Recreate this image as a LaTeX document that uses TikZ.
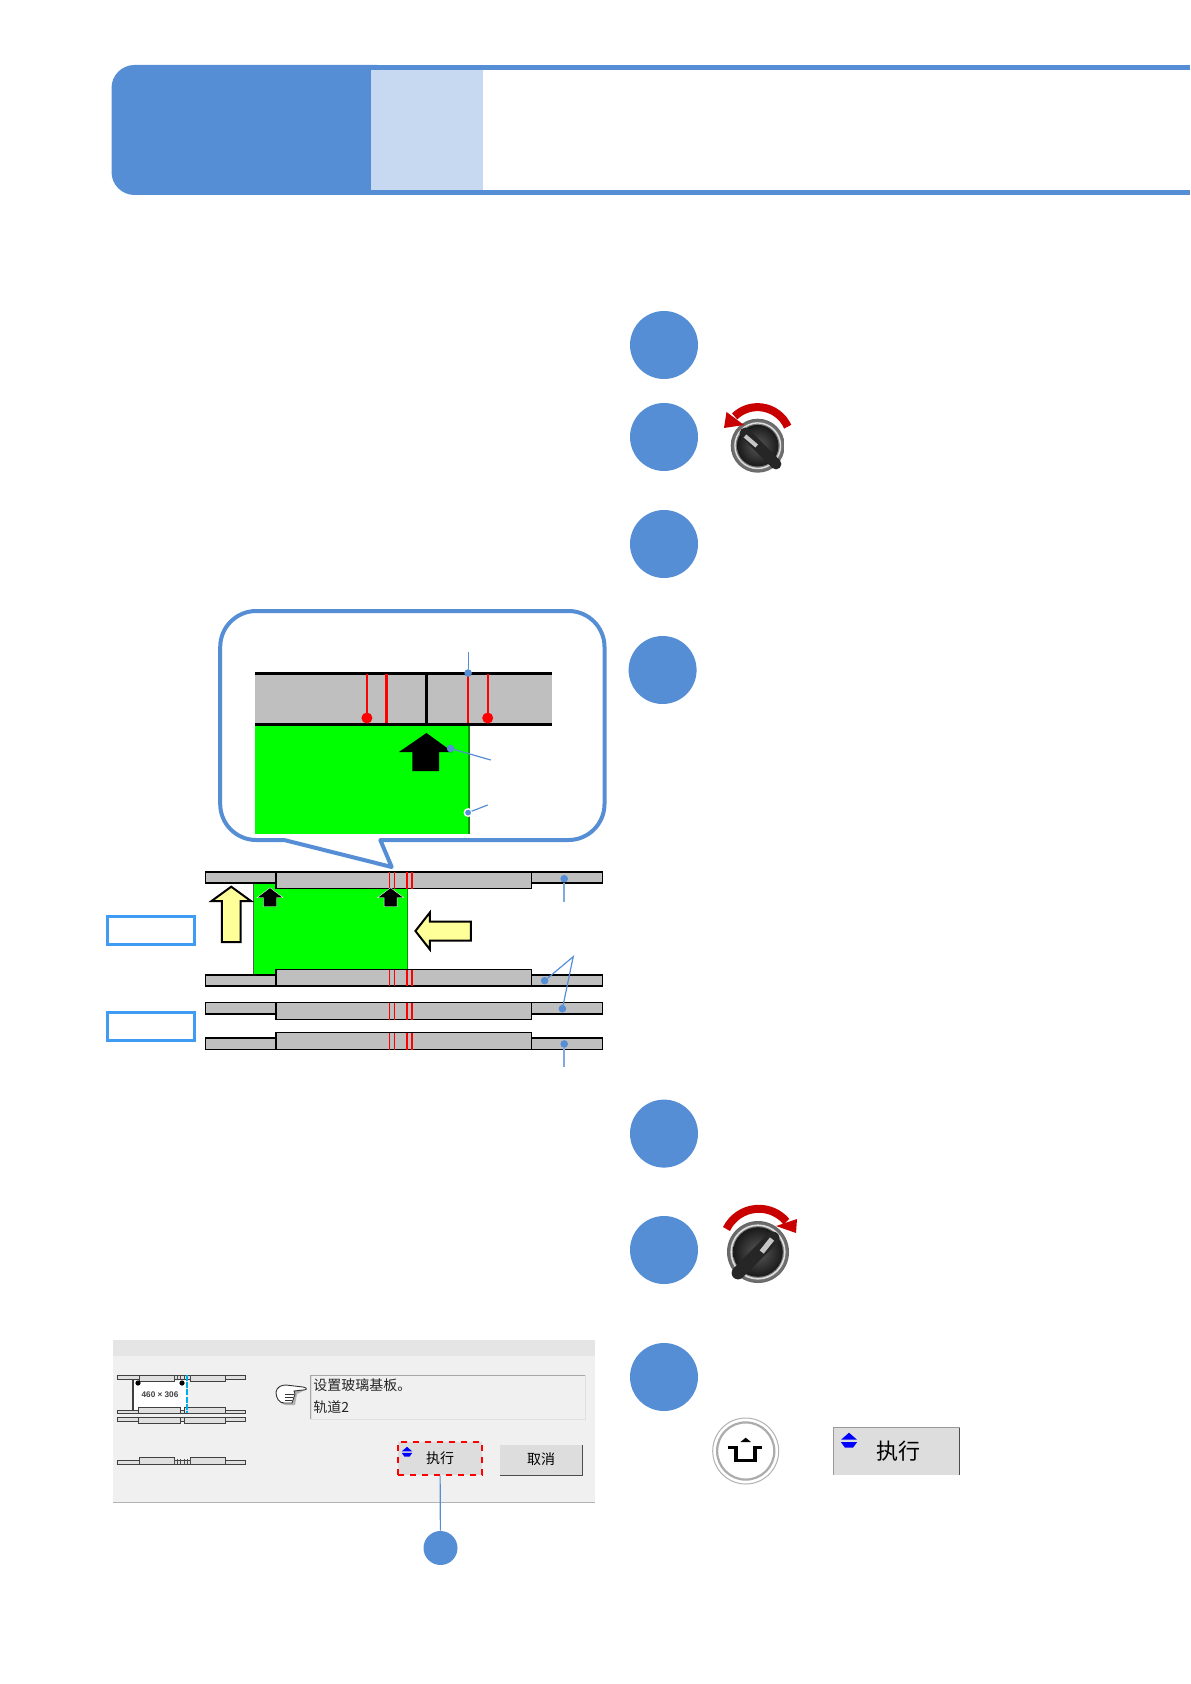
\documentclass[tikz,border=0pt]{standalone}
\usepackage{fontspec}
\setmainfont{Liberation Sans}
\newfontfamily\cjk{Noto Sans CJK SC}
\usepackage{xcolor}
\usepackage{tikz}
\usetikzlibrary{positioning}
\definecolor{stepblue}{HTML}{558ED5}
\definecolor{paleblue}{HTML}{C6D9F1}
\definecolor{railgrey}{HTML}{BFBFBF}
\definecolor{tagblue}{HTML}{409BF3}
\definecolor{dlggrey}{HTML}{F0F0F0}
\definecolor{btngrey}{HTML}{DDDDDD}
\definecolor{knobred}{HTML}{C80000}
\definecolor{armyellow}{HTML}{FFFF99}

\begin{document}
\begin{tikzpicture}[x=0.5pt, y=-0.5pt,
  stepdot/.style={circle, fill=stepblue, minimum size=34pt, inner sep=0pt, outer sep=0pt},
  dotsm/.style={circle, fill=stepblue, minimum size=3.8pt, inner sep=0pt, outer sep=0pt},
  leader/.style={draw=stepblue, line width=.6pt},
  softleader/.style={draw=stepblue!75, line width=.85pt},
  tagbox/.style={draw=tagblue, line width=1.6pt, minimum width=43.5pt, minimum height=14pt, inner sep=0pt},
  railbar/.style={draw=black, fill=railgrey, line width=.6pt},
  railred/.style={draw=red, line width=.45pt},
  minibar/.style={draw=black!75, fill=gray!25, line width=.35pt},
  yellowarr/.style={draw=black, fill=armyellow, line width=1pt, line join=miter},
  btnlabel/.style={font=\cjk\fontsize{7}{8}\selectfont, inner sep=0pt},
  blackup/.pic={\fill[black, draw=white, line width=.2pt] (0,0) -- (13.1,10) -- (6.5,10) -- (6.5,19)
    -- (-6.5,19) -- (-6.5,10) -- (-13.1,10) -- cycle;},
  blueicon/.pic={\fill[blue] (0,-8) -- (8,-1) -- (-8,-1) -- cycle;
    \fill[blue] (-8,1.5) -- (8,1.5) -- (4,7) -- (-4,7) -- cycle;}]
  \useasboundingbox (0,0) rectangle (1190,1684);

  % header
  \fill[stepblue] (300,65) rectangle (1190,70);
  \fill[stepblue] (300,190) rectangle (1190,195);
  \fill[stepblue, rounded corners=11.5pt] (111.5,65) rectangle (400,195);
  \fill[paleblue] (371,70) rectangle (483,190);
  \fill[white] (483,70) rectangle (1190,190);

  % steps
  \node[stepdot] (stepa) at (664,345) {};
  \node[stepdot, below=12pt of stepa] (stepb) {};
  \node[stepdot, below=19.5pt of stepb] (stepc) {};
  \node[stepdot, below=29pt of stepc, xshift=-.7pt] (stepd) {};
  \node[stepdot, below=197.8pt of stepd, xshift=.7pt] (stepe) {};
  \node[stepdot, below=24.2pt of stepe] (stepf) {};
  \node[stepdot, below=29.5pt of stepf] (stepg) {};

  % selector switch, left
  \shade[inner color=gray!40, outer color=gray!80!black] (757.7,445.7) circle[radius=13.5pt];
  \draw[gray!25, line width=.7pt] (757.7,445.7) circle[radius=11.4pt];
  \shade[inner color=gray!70!black, outer color=black!90] (757.7,445.7) circle[radius=10.4pt];
  \draw[black!85, line width=5.4pt, line cap=round] (745,433) -- (776,464);
  \draw[gray!45, line width=2pt] (745,436) -- (756.7,446);
  \draw[knobred, line width=4pt] (787.7,426.7) arc[start angle=24, end angle=134, radius=16.5pt];
  \fill[knobred] (724,428) -- (726.5,412) -- (744,425) -- cycle;

  % selector switch, right
  \shade[inner color=gray!40, outer color=gray!80!black] (758,1252) circle[radius=15.5pt];
  \draw[gray!25, line width=.8pt] (758,1252) circle[radius=13.4pt];
  \shade[inner color=gray!70!black, outer color=black!90] (758,1252) circle[radius=12.4pt];
  \draw[black!85, line width=6.4pt, line cap=round] (773,1238) -- (738,1273);
  \draw[gray!45, line width=2.6pt] (772,1239) -- (761.7,1252);
  \draw[knobred, line width=4pt] (726.5,1229) arc[start angle=154, end angle=40, radius=18pt];
  \fill[knobred] (796,1233) -- (797,1219) -- (776,1226) -- cycle;

  % callout
  \draw[stepblue, line width=2pt, line join=round, fill=white] (380.3,840) -- (391.7,867) -- (284.2,840) -- (256.2,840)
    arc[start angle=270, end angle=180, radius=18pt] -- (220.2,647)
    arc[start angle=180, end angle=90, radius=18pt] -- (568.5,611)
    arc[start angle=90, end angle=0, radius=18pt] -- (604.5,804)
    arc[start angle=0, end angle=-90, radius=18pt] -- cycle;
  \fill[railgrey] (255.3,673) rectangle (551.8,724);
  \fill[green] (255.3,724) rectangle (468.1,834);
  \fill[green!60!black] (468.1,724) rectangle (470.2,834);
  \draw[black, line width=1.5pt] (255.3,673) -- (551.8,673);
  \draw[black, line width=1.5pt] (255.3,724) -- (551.8,724);
  \draw[black, line width=1.5pt] (426.5,673) -- (426.5,724);
  \foreach \rx in {366.9,386.5,468.1,487.7}
    \draw[red, line width=1.2pt] (\rx,674) -- (\rx,723);
  \fill[red] (366.9,718) circle[radius=2.75pt];
  \fill[red] (487.7,718) circle[radius=2.75pt];
  \fill[black] (426.5,733) -- (452.6,752) -- (439.2,752) -- (439.2,771) -- (412.3,771) -- (412.3,752) -- (398.9,752) -- cycle;
  \node[dotsm] (railtip) at (468.1,673) {};
  \coordinate (railend) at (468.1,652);
  \draw[leader] (railtip) -- (railend);
  \node[dotsm] (arrtip) at (450.6,748.5) {};
  \coordinate (arrend) at (490.8,760);
  \draw[leader] (arrtip) -- (arrend);
  \node[dotsm, draw=white, line width=.7pt] (edgetip) at (468.1,812.6) {};
  \coordinate (edgeend) at (487.7,805);
  \draw[leader] (edgetip) -- (edgeend);

  % rails and glass
  \fill[green] (253.2,883) rectangle (406.9,975);
  \draw[gray!70!black, line width=.6pt] (253.2,883) -- (253.2,975);
  \draw[green!60!black, line width=.3pt] (406.9,883) -- (406.9,972);
  \foreach \ry/\rb/\by/\bb in {872/883/872/888.7, 975/986/969.7/986, 1002.7/1014/1002.7/1019.7, 1038/1049.7/1032.7/1049.7} {
    \draw[railbar] (205.4,\ry) rectangle (602.4,\rb);
    \draw[railbar] (276,\by) rectangle (531.1,\bb);
    \draw[railred] (389.6,\by) -- (389.6,\bb);
    \draw[railred] (394.4,\by) -- (394.4,\bb);
    \draw[railred, line width=.9pt] (406.9,\by) -- (406.9,\bb);
    \draw[railred, line width=.9pt] (411.6,\by) -- (411.6,\bb);
  }
  \pic at (270,887.7) {blackup};
  \pic at (390.6,887.7) {blackup};
  \draw[yellowarr] (231.2,886.7) -- (250.9,901) -- (240.5,901) -- (240.5,942) -- (221.9,942) -- (221.9,901) -- (211.6,901) -- cycle;
  \draw[yellowarr] (415.4,931) -- (429.9,912.5) -- (429.9,921.5) -- (470.9,921.5) -- (470.9,940.5) -- (429.9,940.5) -- (429.9,949.5) -- cycle;
  \node[tagbox] (tagtop) at (150.8,930.8) {};
  \node[tagbox] (tagbot) at (150.8,1026.5) {};

  \node[dotsm] (railone) at (564.2,878.7) {};
  \coordinate (railoneend) at (564.2,901.7);
  \draw[softleader] (railone) -- (railoneend);
  \node[dotsm] (railtwo) at (544.6,980.7) {};
  \node[dotsm] (railthree) at (562.4,1008.7) {};
  \coordinate (railpeak) at (573.2,956.7);
  \draw[leader] (railtwo) -- (railpeak) -- (railthree);
  \node[dotsm] (railfour) at (564.2,1044) {};
  \coordinate (railfourend) at (564.2,1066.7);
  \draw[softleader] (railfour) -- (railfourend);

  % dialog
  \fill[dlggrey] (113.3,1340) rectangle (595,1502);
  \fill[gray!20] (113.3,1340) rectangle (595,1356);
  \draw[gray!60, line width=.4pt] (113.3,1502) -- (595,1502);
  \foreach \ry/\rb in {1375/1379, 1410/1413, 1417/1421, 1460/1464}
    \draw[minibar] (117,\ry) rectangle (245,\rb);
  \fill[white] (133,1381) rectangle (186,1410);
  \foreach \bx/\bz/\by/\bb in {139/174/1375/1381.7, 190.7/225/1375/1381.7, 138.7/180/1407/1413,
      184/225/1407/1413, 138.7/180/1417/1423, 184/225/1417/1423, 139/174/1457/1464, 190.7/225/1457/1464}
    \draw[minibar] (\bx,\by) rectangle (\bz,\bb);
  \foreach \rx in {174,177,180,184,187,190.7} {
    \draw[black!70, line width=.35pt] (\rx,1375) -- (\rx,1380);
    \draw[black!70, line width=.35pt] (\rx,1459) -- (\rx,1464);
  }
  \draw[gray!50!black, line width=.6pt] (133,1379) -- (133,1410);
  \draw[cyan, line width=1.1pt, dash pattern=on 3pt off .6pt] (186.7,1375) -- (186.7,1413);
  \fill[black] (138,1383) circle[radius=1.3pt];
  \fill[black] (182,1383) circle[radius=1.3pt];
  \node[font=\bfseries\fontsize{4.1}{4}\selectfont, text=black!75, inner sep=0pt] (sizelabel) at (160,1395) {460 × 306};

  \fill[gray!60] (278,1388) .. controls (279,1389) and (283,1387) .. (288,1387) -- (305,1390) -- (297,1394) -- (295,1405) -- (286,1405) .. controls (281,1405) and (278,1400) .. (278,1394) -- cycle;
  \draw[black!80, fill=white, line width=.45pt] (276,1392) .. controls (277,1387) and (281,1385) .. (286,1385)
    -- (303,1387) .. controls (308,1388) and (307,1390) .. (303,1390) -- (294,1391) -- (295,1394) -- (292,1403)
    -- (284,1403) .. controls (279,1403) and (276,1398) .. (276,1392) -- cycle;
  \draw[black!80, line width=.35pt] (294,1394) -- (285,1394) (293,1397) -- (285,1397) (292,1400) -- (285,1400);

  \node[draw=gray!25, fill=dlggrey, minimum width=137pt, minimum height=21.6pt, inner sep=0pt] (msgbox) at (448,1397.3) {};
  \draw[gray!70, line width=.7pt] (msgbox.south west) -- (msgbox.north west) -- (msgbox.north east);
  \node[anchor=west, align=left, font=\cjk\fontsize{7}{11}\selectfont, inner sep=0pt, text=black!85] (msgtext) at (313,1396) {设置玻璃基板。\\轨道2};

  \node[btnlabel, draw=red, fill=btngrey, dashed, line width=.6pt, minimum width=42pt, minimum height=16.5pt] (execbtn) at (440,1458.5) {执行};
  \pic[scale=.65] at (407,1452) {blueicon};
  \node[btnlabel, fill=btngrey, minimum width=41pt, minimum height=15pt] (cancelbtn) at (541,1460) {\raisebox{1pt}{取消}};
  \draw[black!70, line width=.6pt] (cancelbtn.south west) -- (cancelbtn.south east) -- (cancelbtn.north east);
  \node[circle, fill=stepblue, minimum size=17pt, inner sep=0pt] (execdot) at (440.5,1548) {};
  \draw[leader] (execbtn) -- (execdot);

  % shift key and button
  \draw[gray!60, line width=.5pt, fill=white] (745.7,1451) circle[radius=16.5pt];
  \draw[gray!65, line width=1.1pt] (745.7,1451) circle[radius=14.3pt];
  \draw[black, line width=1.7pt] (727.7,1447.3) -- (736,1447.3) -- (736,1460.7) -- (755,1460.7) -- (755,1447.3) -- (762,1447.3);
  \fill[black] (745.7,1437.7) -- (751,1442) -- (740.4,1442) -- cycle;
  \node[fill=btngrey, minimum width=62.5pt, minimum height=23.3pt, inner sep=0pt,
    font=\cjk\fontsize{11}{12}\selectfont] (execkey) at (896.8,1451.3) {\hspace*{2pt}执行};
  \draw[gray!80, line width=.5pt] (execkey.south west) -- (execkey.north west) -- (execkey.north east);
  \draw[black!70, line width=.7pt] (execkey.north east) -- (execkey.south east);
  \pic at (849,1440.7) {blueicon};
\end{tikzpicture}
\end{document}
